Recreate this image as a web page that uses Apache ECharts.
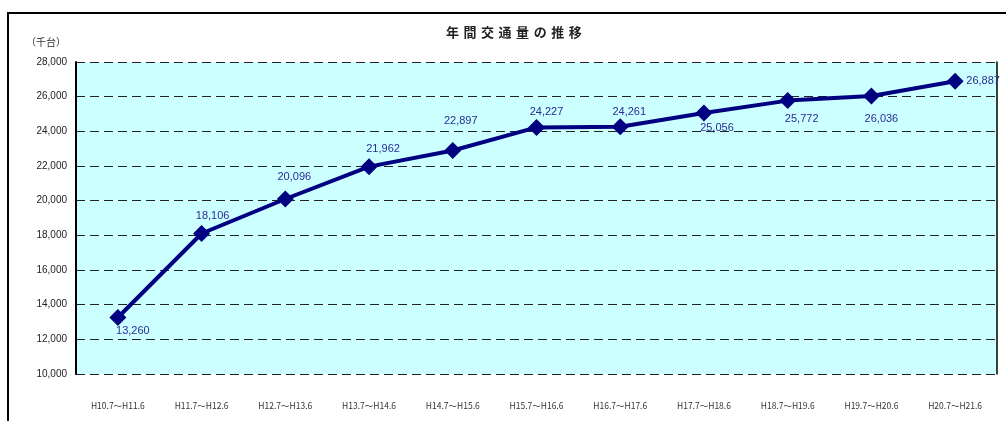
<!DOCTYPE html>
<html>
<head>
<meta charset="utf-8">
<script src="https://cdn.jsdelivr.net/npm/echarts@6/dist/echarts.min.js"></script>
<style>
  html, body { margin: 0; padding: 0; background: #fff; }
  #chart { width: 1006px; height: 421px; }
</style>
</head>
<body>
<div id="chart"></div>
<script>
  // 年度区分
  const periods = [
    'H10.7～H11.6', 'H11.7～H12.6', 'H12.7～H13.6', 'H13.7～H14.6',
    'H14.7～H15.6', 'H15.7～H16.6', 'H16.7～H17.6', 'H17.7～H18.6',
    'H18.7～H19.6', 'H19.7～H20.6', 'H20.7～H21.6'
  ]
  // 年間交通量（千台）
  const traffic = [13260, 18106, 20096, 21962, 22897, 24227, 24261, 25056, 25772, 26036, 26887]

  const yMin = 10000
  const yMax = 28000
  const yStep = 2000

  // label offsets from each marker, px
  const labelShift = [
    [15, 13], [11, -18], [9, -22], [14, -18], [8, -29], [10, -15],
    [9, -15], [13, 15], [14, 18], [10, 23], [28, 0]
  ]

  const chart = echarts.init(document.getElementById('chart'))

  const seriesData = traffic.map((v, i) => ({
    value: v,
    label: { offset: labelShift[i] }
  }))

  const option = {
    animation: false,
    backgroundColor: '#ffffff',
    title: {
      text: '年 間 交 通 量 の 推 移',
      left: 441,
      top: 22,
      textStyle: {
        fontFamily: '"DejaVu Sans", "Noto Sans CJK JP"',
        fontSize: 13,
        fontWeight: 'bold',
        color: '#222'
      }
    },
    graphic: [
      {
        type: 'rect',
        z: -10,
        shape: { x: 8, y: 13, width: 1100, height: 500 },
        style: { fill: 'none', stroke: '#000', lineWidth: 2 }
      }
    ],
    grid: {
      left: 76,
      right: 9,
      top: 62,
      bottom: 47,
      show: true,
      backgroundColor: '#ccffff',
      borderWidth: 0
    },
    xAxis: {
      type: 'category',
      data: periods,
      boundaryGap: true,
      axisLine: { show: false },
      axisTick: { show: false },
      axisLabel: {
        interval: 0,
        margin: 28,
        fontSize: 8.5,
        color: '#333',
        fontFamily: 'Noto Sans CJK JP'
      }
    },
    yAxis: [
      {
        type: 'value',
        min: yMin,
        max: yMax,
        interval: yStep,
        name: '（千台）',
        nameLocation: 'end',
        nameGap: 15,
        nameTextStyle: {
          fontFamily: 'Noto Sans CJK JP',
          fontSize: 10,
          color: '#333',
          align: 'right',
          padding: [0, 10, 0, 0]
        },
        axisLine: { show: true, lineStyle: { color: '#000', width: 2 } },
        axisTick: { show: false },
        axisLabel: {
          margin: 9,
          fontSize: 10,
          color: '#222',
          fontFamily: 'Liberation Sans',
          formatter: v => v.toLocaleString('en-US')
        },
        splitLine: {
          show: true,
          lineStyle: { color: '#222', width: 1, type: [9, 5] }
        }
      },
      {
        type: 'value',
        position: 'right',
        min: yMin,
        max: yMax,
        interval: yStep,
        axisLine: { show: true, lineStyle: { color: '#000', width: 1.5 } },
        axisTick: { show: false },
        axisLabel: { show: false },
        splitLine: { show: false }
      }
    ],
    series: [
      {
        type: 'line',
        data: seriesData,
        symbol: 'diamond',
        symbolSize: 17,
        lineStyle: { color: '#000080', width: 4 },
        itemStyle: { color: '#000080' },
        label: {
          show: true,
          position: 'inside',
          color: '#2b2b96',
          fontSize: 11,
          fontFamily: 'Liberation Sans',
          formatter: p => p.value.toLocaleString('en-US')
        }
      }
    ]
  }

  chart.setOption(option)
</script>
</body>
</html>
